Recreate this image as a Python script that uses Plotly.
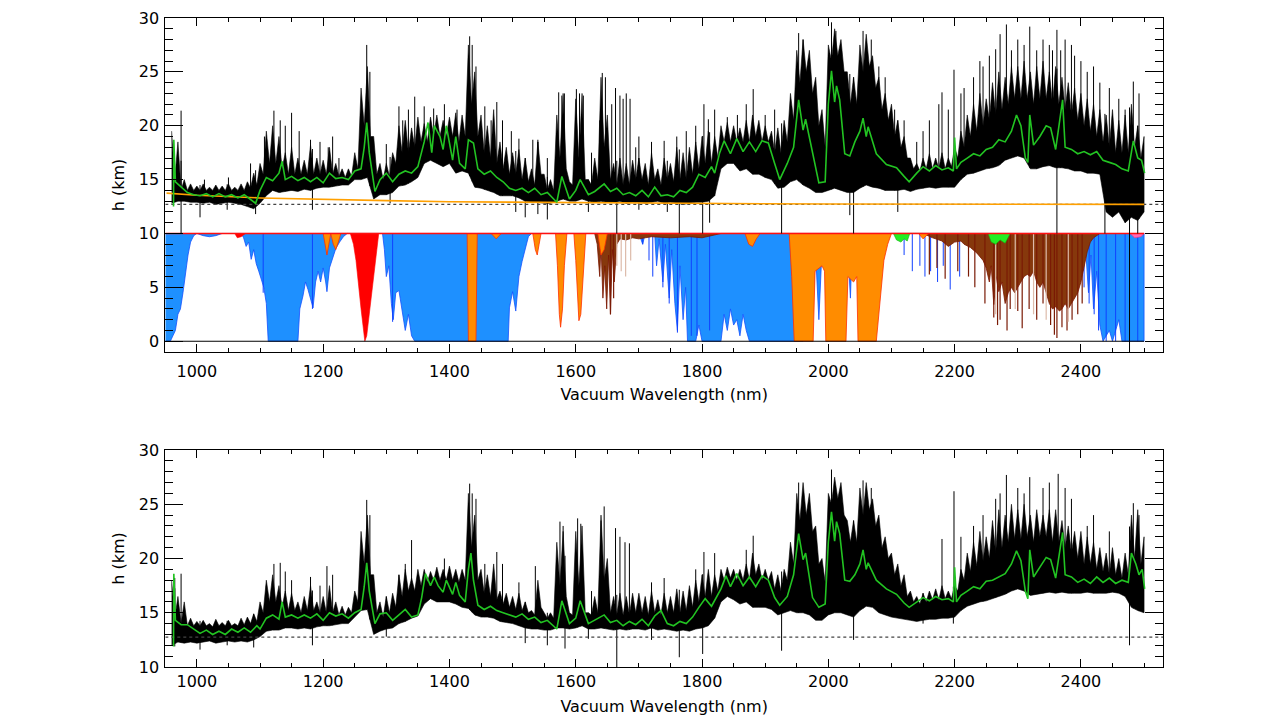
import numpy as np
import plotly.graph_objects as go

# ---------------- data ----------------
WL_START, WL_STEP = 960, 10   # sampling grid of the spike tips (nm); core levels sit half-way between

# top panel: tips of the black h(λ) spikes, dense-core top between them, and lower edge
U1 = [19.5, 18.5, 15.0, 14.6,
      14.4, 14.6, 14.3, 14.5, 14.4, 14.6, 14.3, 14.6, 14.8, 15.6,
      16.5, 19.5, 20.0, 19.0, 17.5, 18.0, 17.0, 16.8, 18.2, 17.0,
      16.8, 18.0, 16.5, 16.0, 16.0, 17.5, 23.5, 25.5, 19.0, 16.5,
      16.5, 17.5, 20.0, 20.5, 19.8, 20.8, 20.2, 20.8, 21.0, 20.5,
      20.8, 21.2, 21.0, 27.5, 25.0, 21.0, 20.0, 21.5, 18.5, 18.0,
      17.5, 17.8, 17.0, 16.0, 18.5, 15.5, 15.0, 21.0, 23.0, 14.8,
      22.5, 23.0, 15.0, 17.0, 24.5, 21.0, 16.5, 17.0, 16.5, 16.8,
      17.0, 16.5, 17.5, 16.0, 17.0, 16.5, 18.0, 17.5, 18.0, 18.5,
      19.0, 19.5, 19.0, 20.0, 20.3, 20.0, 19.8, 20.5, 21.0, 20.5,
      20.0, 19.5, 19.8, 20.5, 23.0, 27.0, 28.0, 27.0, 24.5, 21.5,
      27.5, 29.0, 28.0, 25.0, 24.5, 27.5, 28.5, 26.5, 24.5, 23.0,
      22.0, 20.5, 19.0, 17.0, 16.5, 17.0, 17.4, 17.0, 17.5, 17.0,
      18.0, 19.5, 21.0, 22.0, 23.0, 22.5, 24.0, 25.0, 24.5, 25.5,
      25.5, 26.0, 25.0, 25.5, 26.0, 25.0, 25.5, 24.5, 24.0, 23.5,
      23.0, 22.5, 22.0, 21.5, 21.0, 21.5, 20.5, 21.0, 22.0, 20.0, 19.0]
C1 = [15.0, 14.0, 14.0, 14.0,
      14.0, 14.0, 14.0, 14.0, 14.0, 14.0, 14.0, 14.0, 14.2, 14.5,
      15.5, 16.5, 16.5, 16.0, 15.5, 15.5, 15.5, 15.5, 15.5, 15.5,
      15.5, 15.5, 15.3, 15.2, 15.3, 16.0, 20.0, 19.0, 15.5, 15.0,
      15.3, 16.5, 17.5, 17.5, 18.0, 18.5, 18.5, 19.0, 19.0, 19.0,
      19.0, 18.5, 19.0, 22.0, 19.0, 17.5, 17.0, 16.5, 16.0, 15.5,
      15.5, 15.0, 14.8, 14.5, 15.5, 14.0, 14.0, 17.0, 16.0, 14.5,
      17.0, 15.0, 14.5, 15.0, 18.0, 15.0, 14.5, 14.5, 14.5, 15.0,
      15.0, 14.5, 15.0, 14.5, 15.0, 14.8, 15.0, 15.0, 15.5, 16.0,
      16.5, 16.5, 17.0, 18.5, 18.5, 18.5, 18.5, 18.5, 19.0, 18.5,
      18.5, 17.5, 17.5, 18.5, 20.5, 24.0, 25.0, 23.0, 20.0, 18.0,
      26.0, 26.5, 25.0, 22.0, 22.0, 25.0, 25.5, 23.5, 21.5, 20.5,
      19.0, 18.0, 17.0, 16.0, 15.8, 16.0, 16.0, 16.0, 16.0, 16.2,
      17.0, 18.0, 19.0, 19.5, 20.0, 20.5, 21.0, 21.5, 22.0, 22.5,
      22.5, 22.5, 22.0, 22.5, 22.5, 22.0, 22.0, 21.5, 21.0, 20.5,
      20.0, 19.5, 19.0, 18.5, 18.0, 17.5, 17.5, 17.5, 18.0, 17.0]
L1 = [12.8, 13.0, 13.0, 12.9,
      12.9, 12.8, 12.9, 12.7, 12.8, 12.9, 12.8, 12.7, 12.5, 12.3,
      12.8, 13.5, 14.0, 13.8, 13.9, 14.0, 13.9, 14.1, 14.0, 14.2,
      14.3, 14.3, 14.4, 14.5, 14.5, 15.0, 15.0, 15.2, 13.2, 13.6,
      13.6, 13.8, 14.4, 14.5, 14.8, 15.2, 16.5, 16.8, 16.5, 16.2,
      16.5, 15.6, 15.8, 15.6, 14.3, 14.2, 14.0, 13.8, 13.5, 13.5,
      13.5, 13.3, 13.0, 12.9, 12.9, 12.8, 12.8, 13.0, 13.2, 13.0,
      13.0, 13.2, 13.0, 12.9, 13.0, 12.9, 12.9, 13.0, 12.8, 12.9,
      12.9, 12.8, 12.9, 13.0, 12.8, 12.9, 12.8, 12.7, 12.8, 12.9,
      12.9, 13.0, 13.5, 16.0, 16.5, 16.5, 15.8, 16.0, 15.5, 15.5,
      15.2, 15.0, 14.2, 14.3, 14.8, 15.0, 14.5, 14.2, 13.8, 13.8,
      14.0, 14.2, 14.0, 13.8, 13.8, 14.2, 14.5, 14.3, 14.2, 14.0,
      14.0, 14.0, 14.1, 13.9, 14.1, 14.2, 14.3, 14.2, 14.3, 14.3,
      14.3, 15.0, 15.5, 15.6, 15.8, 16.0, 16.1, 16.3, 16.8, 17.0,
      17.2, 17.0, 16.0, 16.0, 16.2, 16.3, 16.1, 16.1, 16.0, 15.8,
      15.8, 15.6, 15.6, 15.5, 12.0, 11.5, 12.0, 11.0, 11.5, 11.2, 12.0]

# bottom panel
U2 = [18.0, 16.5, 16.0, 14.5,
      14.2, 14.3, 14.0, 14.4, 14.1, 14.3, 14.0, 14.5, 14.6, 14.9,
      16.0, 18.0, 18.5, 17.5, 17.0, 16.8, 16.0, 16.5, 17.5, 16.0,
      16.5, 17.5, 16.0, 15.6, 15.5, 17.0, 22.5, 24.0, 18.5, 16.0,
      16.5, 16.8, 18.5, 19.0, 18.2, 19.0, 19.0, 18.8, 19.2, 19.0,
      19.3, 19.0, 19.0, 26.0, 24.0, 19.0, 18.5, 19.5, 17.0, 16.8,
      16.5, 16.8, 16.0, 15.2, 18.0, 15.0, 15.0, 21.5, 22.5, 15.0,
      22.5, 23.0, 15.0, 16.5, 24.0, 20.0, 16.5, 16.8, 16.5, 16.8,
      16.8, 16.5, 17.0, 16.2, 16.8, 16.5, 17.2, 17.0, 17.5, 18.0,
      18.5, 19.0, 18.5, 19.0, 19.2, 19.0, 19.0, 19.5, 20.5, 19.5,
      19.0, 18.8, 18.5, 19.0, 21.5, 26.0, 27.0, 26.0, 23.0, 20.0,
      26.0, 27.5, 27.0, 23.5, 23.5, 26.5, 27.0, 25.5, 24.0, 22.0,
      20.5, 19.5, 18.5, 17.0, 16.5, 16.8, 17.0, 17.2, 17.5, 17.0,
      17.5, 19.0, 20.5, 21.5, 22.5, 22.0, 23.5, 24.5, 24.0, 25.0,
      24.5, 25.0, 24.0, 24.5, 24.0, 24.5, 24.5, 23.5, 23.0, 22.5,
      22.5, 22.0, 21.5, 21.0, 20.5, 21.0, 20.0, 20.5, 24.0, 24.5, 22.0]
C2 = [14.5, 14.0, 13.8, 13.8,
      13.8, 13.8, 13.7, 13.8, 13.8, 13.8, 13.8, 13.9, 14.0, 14.2,
      15.0, 16.0, 16.0, 15.5, 15.2, 15.2, 15.0, 15.2, 15.2, 15.0,
      15.0, 15.0, 14.8, 14.8, 15.0, 16.0, 19.5, 18.5, 15.0, 14.6,
      15.0, 15.5, 16.5, 17.0, 17.0, 17.5, 17.8, 18.0, 18.0, 18.0,
      18.0, 17.8, 18.0, 21.0, 18.0, 16.8, 16.5, 16.2, 15.8, 15.5,
      15.3, 15.2, 15.0, 14.8, 15.5, 14.5, 14.5, 17.5, 16.5, 14.8,
      17.5, 15.0, 14.8, 15.0, 18.0, 15.0, 14.8, 14.8, 14.8, 15.0,
      15.0, 14.8, 15.0, 14.8, 15.0, 15.0, 15.0, 15.2, 15.5, 16.0,
      16.5, 16.5, 17.0, 18.0, 18.2, 18.0, 18.0, 18.0, 18.5, 18.0,
      18.0, 17.2, 17.0, 18.0, 19.5, 23.5, 24.0, 22.5, 19.5, 17.8,
      25.0, 25.5, 24.0, 21.5, 21.5, 24.0, 24.5, 23.0, 21.0, 20.0,
      18.5, 17.5, 16.5, 16.0, 15.8, 16.0, 16.2, 16.2, 16.3, 16.3,
      17.0, 18.0, 18.8, 19.3, 19.8, 20.0, 20.5, 21.0, 21.5, 21.8,
      21.8, 22.0, 21.5, 22.0, 22.0, 21.5, 21.5, 21.0, 20.5, 20.0,
      19.5, 19.5, 19.0, 18.8, 18.5, 18.5, 18.2, 18.5, 20.0, 19.5]
L2 = [12.0, 12.3, 12.2, 12.3,
      12.2, 12.3, 12.4, 12.2, 12.3, 12.4, 12.3, 12.4, 12.3, 12.5,
      12.8, 13.3, 13.4, 13.4, 13.6, 13.6, 13.5, 13.6, 13.5, 13.7,
      13.8, 13.8, 13.9, 14.0, 14.0, 14.6, 15.2, 15.3, 13.0, 13.3,
      13.5, 13.6, 14.0, 14.2, 14.5, 14.7, 15.8, 16.3, 16.0, 16.0,
      16.0, 15.8, 15.5, 15.4, 14.8, 14.6, 14.6, 14.5, 14.2, 14.1,
      14.0, 13.8, 13.6, 13.5, 13.5, 13.4, 13.4, 13.6, 13.6, 13.5,
      13.6, 13.8, 13.5, 13.5, 13.6, 13.5, 13.4, 13.5, 13.4, 13.5,
      13.5, 13.4, 13.6, 13.4, 13.5, 13.4, 13.3, 13.4, 13.3, 13.5,
      13.6, 13.8, 14.5, 16.0, 16.5, 16.2, 15.8, 16.0, 15.5, 15.5,
      15.5, 15.3, 14.8, 15.0, 15.2, 15.0, 15.0, 14.8, 14.3, 14.3,
      14.8, 15.0, 15.0, 14.8, 14.6, 15.2, 15.6, 15.5, 15.0, 14.8,
      14.6, 14.5, 14.4, 14.3, 14.2, 14.3, 14.4, 14.4, 14.5, 14.5,
      14.6, 15.2, 15.6, 15.8, 16.0, 16.1, 16.3, 16.5, 16.7, 17.0,
      17.2, 17.0, 16.6, 16.7, 16.8, 16.9, 16.8, 16.9, 16.8, 16.8,
      16.8, 16.9, 16.8, 16.8, 16.8, 16.9, 16.8, 16.5, 15.5, 15.2, 15.0]

# isolated narrow spikes of the black data: (wavelength, tip height)
UP1 = [(975, 21.4), (1012, 15.0), (1050, 15.2), (1085, 16.5), (1107, 19.0), (1122, 21.4), (1132, 20.5),
       (1140, 20.0), (1150, 21.2), (1162, 19.5), (1180, 18.7), (1195, 18.5), (1208, 18.0), (1215, 19.0),
       (1225, 17.0), (1269, 27.5), (1274, 25.0), (1300, 18.3), (1320, 21.8), (1326, 20.5), (1335, 21.5),
       (1345, 22.7), (1360, 21.8), (1375, 21.6), (1392, 22.0), (1412, 21.5), (1432, 28.3), (1436, 27.5),
       (1442, 25.5), (1456, 21.8), (1466, 20.5), (1475, 22.2), (1484, 20.5), (1498, 19.5), (1510, 18.8),
       (1532, 18.7), (1540, 18.7), (1555, 17.0), (1573, 23.1), (1578, 22.8), (1582, 23.0), (1601, 23.4),
       (1606, 23.0), (1612, 22.8), (1625, 17.5), (1638, 20.5), (1642, 24.9), (1647, 24.5), (1657, 22.0),
       (1663, 23.5), (1670, 22.8), (1675, 22.5), (1680, 23.0), (1686, 22.5), (1695, 18.0), (1700, 19.0),
       (1720, 18.5), (1740, 18.6), (1760, 19.0), (1775, 19.5), (1790, 20.0), (1803, 22.0), (1810, 20.6),
       (1820, 21.5), (1840, 20.8), (1856, 21.0), (1870, 22.0), (1881, 23.4), (1900, 21.0), (1915, 21.5),
       (1953, 28.6), (1960, 28.0), (2005, 29.6), (2012, 28.8), (2055, 28.8), (2068, 28.0), (2080, 25.5),
       (2090, 24.5), (2105, 21.5), (2120, 20.5), (2140, 18.5), (2150, 19.5), (2160, 20.5), (2175, 22.0),
       (2180, 23.1), (2190, 21.5), (2199, 25.2), (2210, 23.0), (2215, 23.5), (2230, 24.5), (2240, 26.0),
       (2245, 25.5), (2255, 26.5), (2265, 27.1), (2272, 28.5), (2282, 29.4), (2290, 27.0), (2300, 28.0),
       (2310, 27.5), (2319, 29.2), (2330, 27.0), (2340, 28.0), (2350, 27.5), (2355, 27.0), (2362, 28.9),
       (2368, 27.0), (2375, 28.0), (2385, 27.5), (2390, 26.5), (2400, 26.0), (2410, 25.0), (2420, 25.5),
       (2430, 24.0), (2445, 23.5), (2460, 22.5), (2470, 21.5), (2483, 24.1), (2492, 23.0)]
DN1 = [(975, 10.0), (1005, 11.5), (1048, 12.2), (1093, 11.8), (1183, 12.2), (1306, 12.8), (1505, 12.0),
       (1520, 11.5), (1540, 11.8), (1555, 11.3), (1620, 12.0), (1665, 10.0), (1700, 12.2), (1745, 12.0),
       (1764, 10.0), (1801, 10.0), (1812, 11.0), (1926, 10.0), (2034, 11.7), (2040, 10.0), (2110, 12.0),
       (2362, 10.0), (2438, 10.0), (2477, -1.0), (2490, 10.0)]
UP2 = [(965, 18.2), (975, 18.6), (1110, 17.5), (1122, 19.5), (1132, 19.6), (1140, 18.8), (1150, 18.0),
       (1180, 18.3), (1195, 17.5), (1206, 19.3), (1215, 18.5), (1269, 25.4), (1274, 24.0), (1320, 18.5),
       (1330, 19.5), (1340, 21.7), (1392, 20.0), (1432, 26.9), (1436, 26.0), (1442, 25.5), (1456, 19.5),
       (1475, 20.6), (1484, 19.5), (1510, 17.8), (1536, 19.3), (1575, 23.4), (1580, 23.0), (1603, 23.7),
       (1608, 23.2), (1625, 17.0), (1640, 23.5), (1645, 24.8), (1663, 22.8), (1670, 22.0), (1678, 21.5),
       (1685, 21.4), (1720, 17.8), (1740, 18.2), (1790, 19.0), (1803, 20.6), (1820, 20.5), (1870, 20.8),
       (1881, 22.1), (1953, 27.0), (2005, 28.2), (2055, 27.2), (2068, 26.5), (2180, 21.8), (2199, 26.2),
       (2210, 22.0), (2230, 23.0), (2245, 24.0), (2265, 25.5), (2272, 26.0), (2282, 27.7), (2300, 26.5),
       (2310, 26.0), (2319, 27.5), (2340, 26.5), (2350, 27.0), (2364, 27.8), (2375, 26.5), (2385, 25.5),
       (2410, 23.0), (2420, 24.0), (2445, 22.5), (2483, 25.1), (2492, 24.0)]
DN2 = [(965, 11.9), (1005, 11.6), (1048, 12.0), (1090, 11.8), (1183, 12.0), (1300, 12.8), (1520, 12.2),
       (1555, 12.0), (1583, 11.7), (1620, 12.6), (1665, 10.0), (1720, 12.5), (1764, 10.9), (1801, 11.2),
       (1926, 11.5), (2040, 12.5), (2150, 14.0), (2198, 14.0), (2477, 12.0)]

# smoothed (green) curves: (wavelength, h)
G1 = [(963, 12.5), (963.5, 18.7), (966, 14.8), (975, 14.3), (985, 13.8), (995, 13.6), (1005, 13.5),
      (1015, 13.7), (1025, 13.4), (1035, 13.7), (1045, 13.4), (1055, 13.6), (1065, 13.3), (1075, 13.6),
      (1085, 13.2), (1093, 12.8), (1100, 14.0), (1110, 15.2), (1120, 14.9), (1130, 15.6), (1135, 16.7),
      (1140, 15.0), (1150, 15.3), (1160, 14.9), (1170, 15.2), (1180, 14.8), (1190, 15.2), (1200, 14.7),
      (1210, 15.6), (1220, 15.1), (1230, 15.2), (1240, 15.0), (1250, 15.8), (1260, 16.0), (1265, 18.0),
      (1269, 20.3), (1273, 17.5), (1282, 13.9), (1290, 15.0), (1300, 15.6), (1310, 14.8), (1320, 15.5),
      (1330, 15.8), (1340, 15.6), (1350, 16.2), (1360, 18.5), (1366, 20.3), (1372, 17.5), (1376, 20.0),
      (1385, 19.0), (1390, 17.8), (1395, 20.0), (1405, 16.8), (1410, 19.0), (1416, 16.5), (1425, 16.0),
      (1430, 18.7), (1438, 18.4), (1445, 16.0), (1455, 15.5), (1465, 15.8), (1475, 15.2), (1485, 14.8),
      (1495, 14.2), (1505, 14.0), (1515, 14.2), (1525, 13.8), (1535, 14.2), (1545, 13.6), (1555, 13.8),
      (1565, 13.2), (1570, 12.9), (1578, 15.3), (1590, 13.2), (1600, 14.0), (1607, 15.0), (1620, 13.6),
      (1630, 13.9), (1645, 14.6), (1655, 13.9), (1665, 14.2), (1675, 13.6), (1685, 13.8), (1695, 13.5),
      (1705, 14.0), (1715, 13.4), (1725, 14.3), (1735, 13.5), (1745, 13.6), (1755, 13.4), (1765, 14.0),
      (1775, 13.8), (1785, 14.3), (1795, 15.5), (1805, 15.2), (1815, 16.2), (1820, 15.6), (1828, 17.5),
      (1835, 18.6), (1845, 17.4), (1855, 18.8), (1865, 17.6), (1875, 18.5), (1885, 17.6), (1895, 18.6),
      (1905, 18.4), (1915, 16.5), (1923, 15.0), (1935, 16.5), (1945, 18.0), (1953, 22.4), (1960, 19.6),
      (1964, 20.6), (1975, 17.4), (1985, 14.7), (1995, 14.8), (2000, 22.0), (2005, 25.1), (2010, 22.2),
      (2013, 23.7), (2018, 22.4), (2026, 17.4), (2034, 17.2), (2042, 18.5), (2050, 19.5), (2055, 20.7),
      (2060, 19.0), (2063, 19.9), (2076, 17.4), (2092, 16.4), (2108, 16.1), (2120, 15.3), (2128, 14.8),
      (2140, 15.6), (2150, 16.2), (2160, 15.8), (2170, 16.3), (2180, 15.9), (2190, 16.1), (2198, 15.8),
      (2200, 18.9), (2203, 16.0), (2210, 16.6), (2220, 17.0), (2230, 17.4), (2240, 17.2), (2250, 17.8),
      (2260, 18.0), (2270, 18.7), (2280, 18.5), (2290, 19.5), (2298, 21.0), (2305, 20.0), (2312, 17.0),
      (2316, 16.6), (2319, 21.0), (2325, 18.2), (2335, 19.0), (2345, 20.0), (2352, 19.8), (2360, 17.8),
      (2371, 22.4), (2375, 18.0), (2385, 17.8), (2395, 17.4), (2405, 17.6), (2415, 17.3), (2425, 17.6),
      (2435, 16.8), (2445, 16.6), (2455, 16.4), (2465, 16.0), (2475, 15.8), (2483, 18.6), (2490, 17.0),
      (2496, 16.8), (2501, 15.6)]
G2 = [(963, 11.9), (963.5, 18.6), (966, 14.3), (975, 13.9), (985, 13.9), (995, 13.5), (1005, 13.1),
      (1015, 13.4), (1025, 13.0), (1035, 13.3), (1045, 13.0), (1055, 13.5), (1065, 13.2), (1075, 13.6),
      (1085, 13.2), (1095, 13.8), (1100, 13.5), (1110, 14.5), (1120, 14.8), (1130, 14.4), (1135, 16.0),
      (1140, 14.6), (1150, 14.8), (1160, 14.5), (1170, 14.8), (1180, 14.5), (1190, 14.9), (1200, 14.3),
      (1210, 15.0), (1220, 14.7), (1230, 14.9), (1240, 14.5), (1250, 15.0), (1260, 15.3), (1265, 17.4),
      (1269, 19.6), (1273, 17.0), (1282, 14.0), (1290, 14.9), (1300, 15.0), (1310, 14.3), (1320, 14.8),
      (1330, 15.3), (1340, 14.6), (1350, 14.8), (1356, 16.4), (1362, 18.6), (1370, 17.5), (1376, 18.3),
      (1382, 17.5), (1390, 16.9), (1395, 18.0), (1405, 16.7), (1410, 17.8), (1416, 16.6), (1425, 16.0),
      (1430, 19.0), (1434, 20.5), (1438, 18.0), (1445, 15.7), (1455, 15.3), (1465, 15.6), (1475, 15.2),
      (1485, 15.0), (1495, 14.8), (1505, 14.6), (1515, 14.9), (1525, 14.4), (1535, 14.6), (1545, 14.1),
      (1555, 14.3), (1565, 13.8), (1570, 13.5), (1578, 16.1), (1590, 14.0), (1600, 14.5), (1607, 16.1),
      (1620, 14.0), (1630, 14.3), (1645, 14.8), (1655, 14.1), (1665, 14.3), (1675, 13.8), (1685, 14.2),
      (1695, 13.9), (1705, 14.4), (1715, 13.8), (1725, 14.7), (1735, 15.2), (1745, 14.0), (1755, 13.8),
      (1765, 14.2), (1775, 14.0), (1785, 14.6), (1795, 15.5), (1805, 16.3), (1815, 15.6), (1822, 16.4),
      (1830, 17.2), (1838, 18.4), (1845, 17.4), (1855, 18.6), (1865, 17.5), (1875, 18.3), (1885, 17.4),
      (1895, 18.4), (1905, 18.0), (1915, 16.4), (1923, 15.7), (1935, 16.5), (1945, 18.5), (1953, 22.3),
      (1960, 19.9), (1964, 20.5), (1975, 16.4), (1985, 15.5), (1995, 15.8), (2000, 21.5), (2005, 24.3),
      (2010, 21.6), (2013, 23.4), (2018, 22.3), (2026, 18.0), (2034, 17.9), (2042, 18.5), (2050, 19.5),
      (2055, 20.8), (2060, 19.0), (2063, 19.6), (2076, 18.0), (2092, 17.2), (2108, 16.7), (2120, 15.9),
      (2128, 15.5), (2140, 16.0), (2150, 16.4), (2160, 16.1), (2170, 16.5), (2180, 16.2), (2190, 16.3),
      (2198, 16.0), (2200, 19.2), (2203, 16.0), (2210, 16.6), (2220, 17.0), (2230, 17.4), (2240, 17.2),
      (2250, 17.9), (2260, 18.0), (2270, 18.3), (2280, 18.6), (2290, 19.5), (2298, 20.7), (2305, 19.8),
      (2312, 17.0), (2316, 16.3), (2319, 20.8), (2325, 18.3), (2335, 19.2), (2345, 20.1), (2352, 19.9),
      (2360, 18.2), (2371, 22.4), (2375, 18.5), (2385, 18.3), (2395, 17.8), (2405, 18.1), (2415, 17.7),
      (2425, 18.3), (2435, 17.8), (2445, 18.2), (2455, 17.7), (2465, 18.0), (2475, 17.8), (2480, 20.5),
      (2487, 19.5), (2492, 18.5), (2497, 19.0), (2501, 17.2)]

ORANGE_REF = [(952, 13.75), (1000, 13.55), (1100, 13.3), (1200, 13.15), (1300, 13.05), (1400, 12.95),
              (1500, 12.9), (1600, 12.85), (1700, 12.82), (1800, 12.78), (1900, 12.76), (2000, 12.74),
              (2200, 12.72), (2500, 12.7)]
DOTTED_TOP, DOTTED_BOTTOM = 12.7, 12.75

# absorption spectra drawn below y=10 (lower edge of each hanging band)
H2O = [(950, 0.0), (958, 0.0), (962, 0.5), (966, 1.0), (970, 2.5), (974, 3.0), (978, 4.5), (982, 6.5),
       (986, 8.0), (990, 9.2), (995, 9.8), (1000, 10.0), (1010, 9.8), (1020, 9.7), (1030, 9.8), (1040, 10.0),
       (1070, 10.0), (1074, 9.6), (1078, 8.8), (1082, 9.2), (1086, 7.6), (1090, 8.5), (1094, 7.2), (1098, 6.5),
       (1102, 5.8), (1106, 5.0), (1110, 3.5), (1113, 0.0), (1160, 0.0), (1163, 3.0), (1168, 4.2), (1172, 5.5),
       (1176, 4.8), (1180, 4.0), (1184, 3.1), (1188, 5.5), (1192, 6.5), (1196, 5.5), (1200, 6.8), (1204, 5.5),
       (1206, 4.6), (1210, 6.8), (1214, 7.5), (1220, 8.6), (1226, 9.2), (1232, 9.7), (1238, 10.0),
       (1294, 10.0), (1297, 8.5), (1300, 6.0), (1304, 7.0), (1308, 3.5), (1311, 2.0), (1315, 4.5), (1320, 4.7),
       (1325, 3.0), (1330, 1.0), (1335, 2.5), (1340, 0.5), (1345, 0.0), (1493, 0.0), (1495, 3.1), (1500, 4.6),
       (1505, 2.8), (1510, 6.0), (1515, 7.4), (1520, 8.6), (1525, 9.7), (1530, 10.0), (1700, 10.0),
       (1706, 9.0), (1710, 10.0), (1725, 10.0), (1728, 7.0), (1732, 9.5), (1738, 5.5), (1742, 9.0), (1748, 4.0),
       (1752, 8.5), (1757, 3.5), (1761, 1.0), (1765, 7.0), (1770, 2.0), (1774, 5.0), (1777, 0.0), (1790, 0.0),
       (1795, 1.5), (1800, 0.0), (1830, 0.0), (1835, 2.5), (1840, 1.0), (1845, 3.0), (1850, 1.5), (1855, 2.0),
       (1860, 0.5), (1865, 2.5), (1870, 1.0), (1875, 0.0), (1960, 0.0), (1975, 3.0), (1980, 8.0), (1985, 2.0),
       (1990, 8.5), (1996, 9.5), (2030, 9.5), (2035, 4.0), (2038, 9.5), (2100, 10.0), (2400, 10.0),
       (2403, 6.5), (2407, 9.0), (2412, 4.5), (2416, 8.0), (2420, 3.0), (2425, 6.5), (2430, 1.5), (2435, 0.0),
       (2445, 1.0), (2450, 0.0), (2460, 2.0), (2465, 0.0), (2500, 0.0)]
H2O_LINES = [(1105, 4.5), (1183, 3.0), (1310, 1.8), (1706, 9.0), (1716, 7.5), (1722, 6.0), (1738, 5.0),
             (1748, 3.5), (1761, 0.8), (1783, 0.5), (1792, 0.5), (1812, 1.0), (2120, 8.0), (2133, 6.5),
             (2145, 7.0), (2153, 6.0), (2162, 6.5), (2173, 5.5), (2182, 7.0), (2193, 4.8), (2208, 6.0),
             (2405, 5.0), (2413, 3.5), (2421, 2.5), (2428, 1.0), (2440, 0.0), (2455, 0.0), (2470, 0.0),
             (2490, 0.0)]
CO2 = [(1200, 10), (1203, 9.0), (1206, 8.0), (1209, 9.0), (1212, 10), (1216, 9.0), (1220, 8.5), (1224, 9.2),
       (1228, 10), (1428, 10), (1430, 0.0), (1442, 0.0), (1444, 10), (1466, 10), (1474, 9.5), (1482, 10),
       (1532, 10), (1536, 8.5), (1539, 8.0), (1542, 9.0), (1545, 10), (1568, 10), (1571, 7.0), (1574, 2.5),
       (1576, 1.3), (1579, 3.0), (1582, 7.0), (1586, 10), (1597, 10), (1600, 7.5), (1603, 3.5), (1605, 1.9),
       (1608, 2.5), (1612, 6.0), (1616, 10), (1635, 10), (1640, 8.0), (1645, 8.5), (1650, 10), (1868, 10),
       (1874, 9.0), (1880, 8.8), (1886, 9.5), (1892, 10), (1938, 10), (1942, 6.0), (1946, 0.0), (1976, 0.0),
       (1979, 6.5), (1990, 7.0), (1994, 6.5), (1996, 0.0), (2028, 0.0), (2031, 6.0), (2040, 5.5), (2045, 6.0),
       (2047, 0.0), (2076, 0.0), (2080, 2.5), (2084, 5.5), (2088, 7.5), (2094, 9.0), (2100, 10), (2143, 10),
       (2150, 9.5), (2159, 10)]
CH4 = [(1630, 10), (1634, 9.0), (1638, 6.0), (1640, 9.0), (1643, 4.0), (1646, 7.0), (1649, 3.0), (1652, 8.0),
       (1655, 2.5), (1658, 8.5), (1661, 5.5), (1665, 9.0), (1670, 9.5), (1680, 9.4), (1690, 9.6), (1700, 9.5),
       (1720, 9.7), (1750, 9.6), (1780, 9.7), (1800, 9.6), (1830, 10), (2150, 10), (2165, 9.6), (2180, 9.3),
       (2190, 8.8), (2200, 9.2), (2210, 9.3), (2215, 9.0), (2225, 8.7), (2235, 8.2), (2245, 7.5), (2250, 6.8),
       (2255, 5.5), (2258, 7.0), (2262, 3.4), (2266, 6.0), (2270, 4.6), (2275, 5.5), (2280, 3.5), (2285, 4.5),
       (2290, 5.0), (2295, 4.5), (2300, 5.0), (2305, 5.5), (2310, 6.0), (2315, 6.2), (2320, 6.0), (2325, 6.5),
       (2330, 5.5), (2335, 5.0), (2340, 5.5), (2345, 4.5), (2350, 3.5), (2355, 3.0), (2360, 3.2), (2366, 2.8),
       (2370, 3.0), (2375, 3.5), (2380, 3.0), (2385, 3.5), (2390, 4.0), (2395, 4.5), (2400, 5.5), (2405, 7.0),
       (2410, 8.3), (2415, 9.2), (2420, 9.6), (2430, 10)]
CH4_LINES = [(1655, 2.5), (1660, 4.0), (2160, 6.2), (2172, 6.8), (2185, 5.8), (2205, 6.5), (2222, 6.0),
             (2232, 5.0), (2248, 3.5), (2262, 2.2), (2268, 1.5), (2272, 2.0), (2283, 1.0), (2288, 3.0),
             (2300, 2.8), (2307, 1.2), (2318, 3.0), (2330, 2.0), (2340, 3.5), (2352, 1.5), (2358, 0.6),
             (2362, 0.3), (2370, 1.3), (2378, 1.0), (2386, 2.0), (2395, 2.5), (2402, 3.5)]
HDO_LINES = [(1665, 7.0), (1672, 6.5), (1679, 6.0), (1687, 7.5), (2265, 2.5), (2296, 3.0), (2325, 2.5),
             (2345, 2.0), (2380, 1.8)]
N2O = [(2103, 10), (2108, 9.4), (2115, 9.2), (2120, 9.5), (2125, 9.3), (2129, 10), (2253, 10), (2258, 9.2),
       (2265, 9.0), (2272, 9.4), (2280, 9.1), (2288, 10)]
O2 = [(1060, 10), (1064, 9.6), (1070, 9.7), (1077, 10), (1243, 10), (1248, 9.0), (1252, 7.5), (1256, 5.0),
      (1260, 3.0), (1263, 1.5), (1266, 0.0), (1269, 0.5), (1272, 2.0), (1276, 4.0), (1280, 6.5), (1284, 8.5),
      (1288, 10)]
OTHER = [(2478, 10), (2485, 9.6), (2495, 9.7), (2500, 10)]

SPEC_TOP = 10.0          # level from which absorption bands hang
SPEC_RANGE = (950, 2500)

# ---------------- figure ----------------
FONT = "DejaVu Sans"
fig = go.Figure()


def add(tr, row):
    tr.update(xaxis="x" if row == 1 else "x2", yaxis="y" if row == 1 else "y2",
              hoverinfo="skip", showlegend=False)
    fig.add_trace(tr)


def hang_fill(pairs, fill, edge, width=0.7):
    w = [p[0] for p in pairs]
    v = [p[1] for p in pairs]
    add(go.Scatter(x=w + [w[-1], w[0]], y=v + [SPEC_TOP, SPEC_TOP], mode="lines", fill="toself",
                   fillcolor=fill, line=dict(color=edge, width=width)), 1)


def hang_lines(pairs, color, width=1.0):
    xs, ys = [], []
    for w, v in pairs:
        xs += [w, w, None]
        ys += [SPEC_TOP, v, None]
    add(go.Scatter(x=xs, y=ys, mode="lines", line=dict(color=color, width=width)), 1)


def data_panel(row, up, core, lo, ups, dns, green, dotted):
    wl = [WL_START + WL_STEP * i for i in range(len(up))]
    # outline: spike tips on the grid, dense-core level half-way between, then back along the lower edge
    top_x, top_y = [], []
    for i, w in enumerate(wl):
        top_x.append(w)
        top_y.append(up[i])
        if i < len(core) and i < len(wl) - 1:
            top_x.append(w + WL_STEP / 2)
            top_y.append(core[i])
    add(go.Scatter(x=top_x + wl[::-1], y=top_y + lo[::-1], mode="lines", fill="toself",
                   fillcolor="black", line=dict(color="black", width=0.6)), row)
    xs, ys = [], []
    for w, v in ups:
        xs += [w, w, None]
        ys += [float(np.interp(w, wl, lo)), v, None]
    for w, v in dns:
        xs += [w, w, None]
        ys += [float(np.interp(w, wl, up)), v, None]
    add(go.Scatter(x=xs, y=ys, mode="lines", line=dict(color="black", width=1)), row)
    add(go.Scatter(x=[950, 2530], y=[dotted, dotted], mode="lines",
                   line=dict(color="#444444", width=1.3, dash="dot")), row)
    if row == 1:
        add(go.Scatter(x=[p[0] for p in ORANGE_REF], y=[p[1] for p in ORANGE_REF], mode="lines",
                       line=dict(color="#FFA000", width=1.6)), row)
    add(go.Scatter(x=[p[0] for p in green], y=[p[1] for p in green], mode="lines",
                   line=dict(color="#22C322", width=1.6)), row)


# top panel: absorption bands
hang_fill(H2O, "#1E90FF", "#1450FF", 0.8)
hang_lines(H2O_LINES, "#1040FF", 1.0)
hang_fill(CH4, "#86380C", "#7A1500", 0.8)
hang_lines(CH4_LINES, "#7A1A05", 1.2)
hang_lines(HDO_LINES, "#DDBBAA", 1.2)
hang_fill(N2O, "#22EE22", "#10B010", 0.6)
hang_fill(CO2, "#FF8C00", "#FF3000", 0.8)
hang_fill(O2, "#FF0000", "#FF0000", 0.6)
hang_fill(OTHER, "#FF69B4", "#FF3080", 0.6)
add(go.Scatter(x=list(SPEC_RANGE), y=[SPEC_TOP, SPEC_TOP], mode="lines",
               line=dict(color="#FF1010", width=1.6)), 1)
add(go.Scatter(x=list(SPEC_RANGE), y=[0, 0], mode="lines", line=dict(color="black", width=1.2)), 1)

data_panel(1, U1, C1, L1, UP1, DN1, G1, DOTTED_TOP)
data_panel(2, U2, C2, L2, UP2, DN2, G2, DOTTED_BOTTOM)

tickfont = dict(family=FONT, size=16, color="black")
titlefont = dict(family=FONT, size=16, color="black")
xcommon = dict(range=[950, 2530], tickmode="linear", tick0=1000, dtick=200, ticks="inside", ticklen=8,
               tickwidth=1, tickcolor="black", showline=True, linecolor="black", linewidth=1,
               mirror="allticks", showgrid=False, zeroline=False, tickfont=tickfont,
               minor=dict(tick0=1000, dtick=50, ticks="inside", ticklen=4, tickcolor="black",
                          tickwidth=1, showgrid=False))
ycommon = dict(tickmode="linear", tick0=0, dtick=5, ticks="inside", ticklen=18, tickwidth=1,
               tickcolor="black", showline=True, linecolor="black", linewidth=1, mirror="allticks",
               showgrid=False, zeroline=False, tickfont=tickfont,
               minor=dict(tick0=0, dtick=1, ticks="inside", ticklen=8, tickcolor="black",
                          tickwidth=1, showgrid=False))

XD = [165.3 / 1275, 1163 / 1275]
fig.update_layout(
    width=1275, height=720, paper_bgcolor="white", plot_bgcolor="white",
    margin=dict(l=0, r=0, t=0, b=0, autoexpand=False), showlegend=False,
    xaxis=dict(domain=XD, anchor="y", ticklabelstandoff=5,
               title=dict(text="Vacuum Wavelength (nm)", font=titlefont, standoff=8), **xcommon),
    yaxis=dict(domain=[1 - 352 / 720, 1 - 18 / 720], anchor="x", range=[-1, 30], ticklabelstandoff=2,
               title=dict(text="h (km)", font=titlefont, standoff=10), **ycommon),
    xaxis2=dict(domain=XD, anchor="y2", ticklabelstandoff=0,
                title=dict(text="Vacuum Wavelength (nm)", font=titlefont, standoff=10), **xcommon),
    yaxis2=dict(domain=[1 - 667 / 720, 1 - 450 / 720], anchor="x2", range=[10, 30], ticklabelstandoff=2,
                title=dict(text="h (km)", font=titlefont, standoff=10), **ycommon),
)

fig.write_html("out.html")
